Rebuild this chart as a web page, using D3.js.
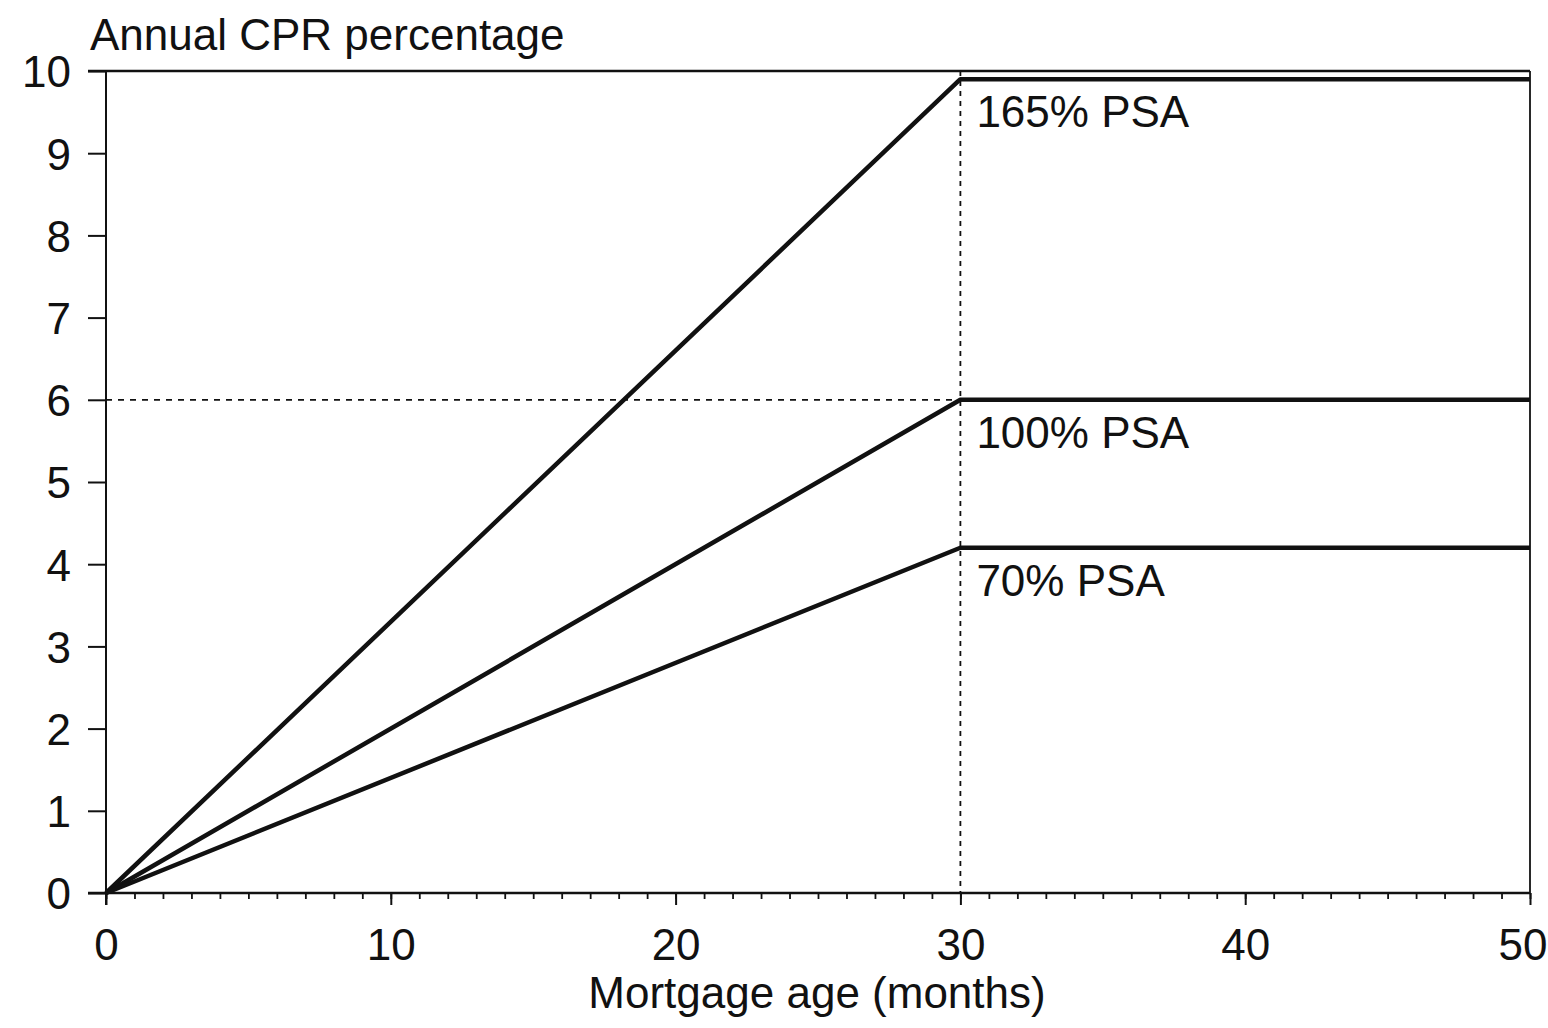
<!DOCTYPE html>
<html>
<head>
<meta charset="utf-8">
<script src="https://cdn.jsdelivr.net/npm/d3@7"></script>
<style>
  html, body { margin: 0; padding: 0; background: #ffffff; }
  svg { display: block; }
  text { font-family: "Liberation Sans", Arial, Helvetica, sans-serif; fill: #111; }
</style>
</head>
<body>
<svg id="chart" width="1548" height="1028"></svg>
<script>
// Mortgage age (months) at which each PSA curve changes slope
const ageMonths = [0, 30, 50];
// Annual CPR (%) for each PSA speed at those ages
const psa165 = [0, 9.9, 9.9];
const psa100 = [0, 6.0, 6.0];
const psa70  = [0, 4.2, 4.2];
const seriesNames = ["165% PSA", "100% PSA", "70% PSA"];
const xTickValues = [0, 10, 20, 30, 40, 50];
const yTickValues = [0, 1, 2, 3, 4, 5, 6, 7, 8, 9, 10];
const yTitle = "Annual CPR percentage";
const xTitle = "Mortgage age (months)";

const svg = d3.select("#chart");
const margin = { left: 106, right: 18, top: 71, bottom: 135 };
const W = 1548, H = 1028;
const FONT = "'Liberation Sans', Arial, sans-serif";

const x = d3.scaleLinear().domain([0, 50]).range([margin.left, W - margin.right]);
const y = d3.scaleLinear().domain([0, 10]).range([H - margin.bottom, margin.top]);

// Frame: top and right edges
svg.append("line")
  .attr("x1", x(0) - 18).attr("x2", x(50))
  .attr("y1", y(10)).attr("y2", y(10))
  .attr("stroke", "#111").attr("stroke-width", 2.5);
svg.append("line")
  .attr("x1", x(50)).attr("x2", x(50))
  .attr("y1", y(10)).attr("y2", y(0))
  .attr("stroke", "#111").attr("stroke-width", 1.8);

// Reference lines at the 30-month seasoning point and 6% CPR
svg.append("line")
  .attr("x1", x(30)).attr("x2", x(30))
  .attr("y1", y(10)).attr("y2", y(0))
  .attr("stroke", "#111").attr("stroke-width", 1.8)
  .attr("stroke-dasharray", "5,5");
svg.append("line")
  .attr("x1", x(0)).attr("x2", x(30))
  .attr("y1", y(6)).attr("y2", y(6))
  .attr("stroke", "#111").attr("stroke-width", 1.8)
  .attr("stroke-dasharray", "6,6");

// Y axis
const yAxis = d3.axisLeft(y).tickValues(yTickValues).tickSize(18).tickPadding(17)
  .tickFormat(d3.format("d"));
const gy = svg.append("g").attr("transform", `translate(${x(0)},0)`).call(yAxis);
gy.select(".domain").attr("stroke", "#111").attr("stroke-width", 2)
  .attr("d", `M-18,${y(10)}H0V${y(0) + 12}`);
gy.selectAll(".tick line").attr("stroke", "#111").attr("stroke-width", 2);
gy.selectAll(".tick text")
  .style("font-family", FONT)
  .style("font-size", "44px").attr("fill", "#111").attr("dy", "0.36em");

// X axis: minor monthly ticks and major ticks every 10 months
const xMinor = d3.axisBottom(x).ticks(50).tickSize(6).tickFormat("");
const gxm = svg.append("g").attr("transform", `translate(0,${y(0)})`).call(xMinor);
gxm.select(".domain").remove();
gxm.selectAll(".tick line").attr("stroke", "#111").attr("stroke-width", 1.8);

const xAxis = d3.axisBottom(x).tickValues(xTickValues).tickSize(12).tickPadding(24)
  .tickFormat(d3.format("d"));
const gx = svg.append("g").attr("transform", `translate(0,${y(0)})`).call(xAxis);
gx.select(".domain").attr("stroke", "#111").attr("stroke-width", 2.5)
  .attr("d", `M${x(0) - 18},0H${x(50)}`);
gx.selectAll(".tick line").attr("stroke", "#111").attr("stroke-width", 2);
gx.selectAll(".tick text")
  .style("font-family", FONT)
  .style("font-size", "44px").attr("fill", "#111").attr("dy", "0.71em");
// keep the last label inside the page edge
gx.selectAll(".tick text").filter(d => d === 50)
  .attr("text-anchor", "end").attr("x", W - 1 - x(50));

// PSA curves
const line = d3.line().x((d, i) => x(ageMonths[i])).y(d => y(d));
[psa165, psa100, psa70].forEach(vals => {
  svg.append("path")
    .attr("d", line(vals))
    .attr("fill", "none")
    .attr("stroke", "#111")
    .attr("stroke-width", 4.5)
    .attr("stroke-linejoin", "round");
});

// Curve labels just right of the 30-month line
const labelVals = [psa165[1], psa100[1], psa70[1]];
seriesNames.forEach((name, i) => {
  svg.append("text")
    .attr("x", x(30) + 16)
    .attr("y", y(labelVals[i]) + 48)
    .style("font-size", "44px")
    .text(name);
});

// Titles
svg.append("text")
  .attr("x", 90).attr("y", 50)
  .style("font-size", "44px")
  .text(yTitle);
svg.append("text")
  .attr("x", 817).attr("y", 1008)
  .attr("text-anchor", "middle")
  .style("font-size", "44px")
  .text(xTitle);
</script>
</body>
</html>
